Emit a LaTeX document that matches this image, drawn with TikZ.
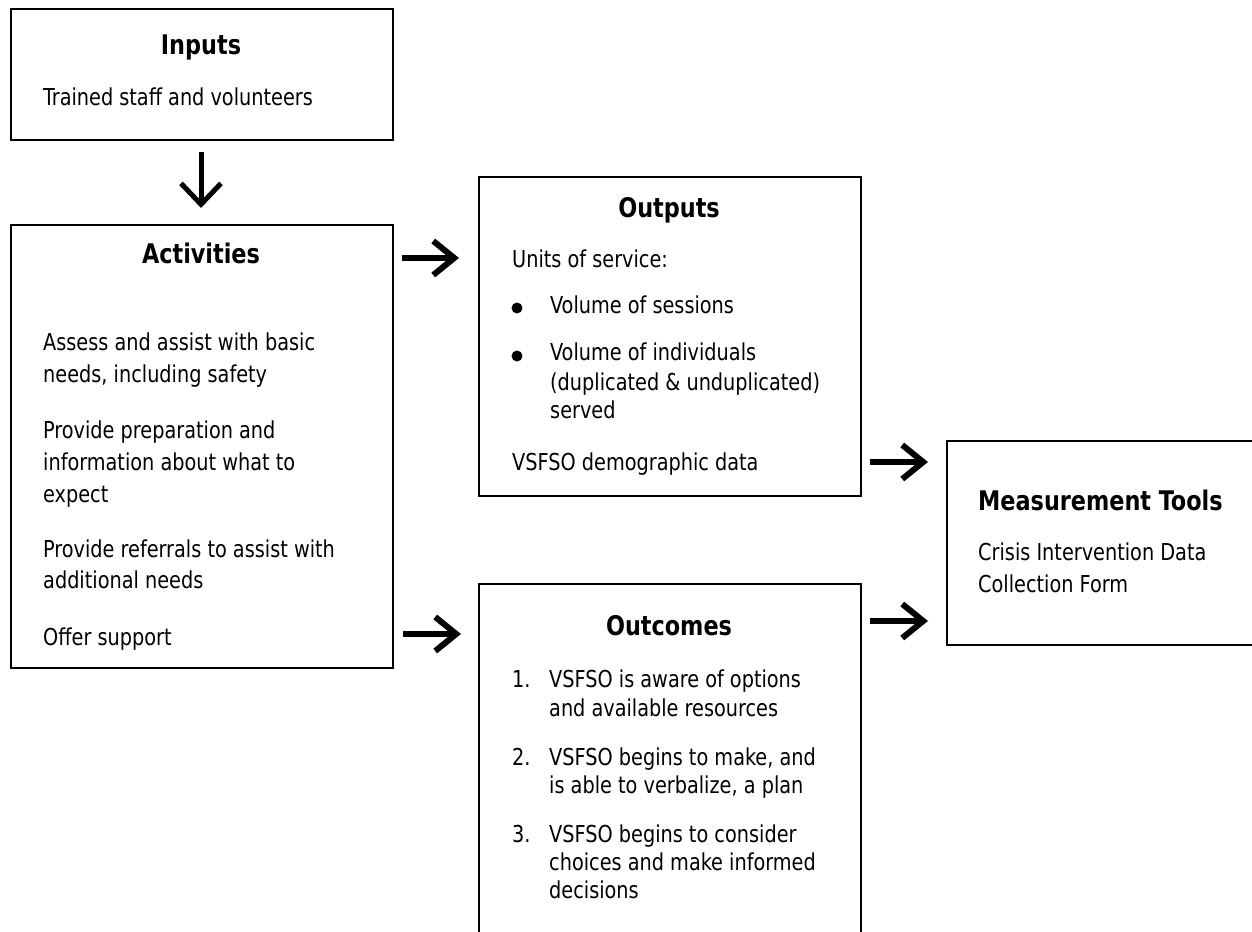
\documentclass[tikz,border=0pt]{standalone}
\usepackage{fontspec}
\setmainfont[FakeStretch=0.92]{DejaVu Sans Condensed}
\usetikzlibrary{arrows.meta}

\begin{document}
\begin{tikzpicture}[x=1pt,y=-1pt,
  box/.style={draw, line width=2.2pt, rectangle, inner sep=0pt, anchor=north west},
  txt/.style={anchor=base west, inner sep=0pt, font=\fontsize{23.3}{23.3}\selectfont},
  head/.style={anchor=base, inner sep=0pt, font=\fontsize{27}{27}\selectfont\bfseries},
  headw/.style={head, anchor=base west},
  dot/.style={circle, fill, inner sep=0pt, minimum size=11pt},
  flow/.style={line width=6pt, -{Straight Barb[length=21pt,width=34pt]}},
  flowdown/.style={line width=5pt, -{Straight Barb[length=21pt,width=40pt]}}]
\clip (0,0) rectangle (1252,931);

% frames
\node[box, minimum width=382pt, minimum height=131pt] (inputs) at (10,8) {};
\node[box, minimum width=382pt, minimum height=443pt] (activities) at (10,224) {};
\node[box, minimum width=382pt, minimum height=319pt] (outputs) at (478,176) {};
\node[box, minimum width=382pt, minimum height=400pt] (outcomes) at (478,583) {};
\node[box, minimum width=330pt, minimum height=204pt] (tools) at (946,440) {};

% Inputs
\node[head] (inH) at (201,55) {Inputs};
\node[txt] (in1) at (43,106) {Trained staff and volunteers};

% Activities
\node[head] (actH) at (201,263) {Activities};
\node[txt] (act1) at (43,350) {Assess and assist with basic};
\node[txt] (act2) at (43,382) {needs, including safety};
\node[txt] (act3) at (43,438) {Provide preparation and};
\node[txt] (act4) at (43,470) {information about what to};
\node[txt] (act5) at (43,502) {expect};
\node[txt] (act6) at (43,557) {Provide referrals to assist with};
\node[txt] (act7) at (43,588) {additional needs};
\node[txt] (act8) at (43,645) {Offer support};

% Outputs
\node[head] (outH) at (669,217) {Outputs};
\node[txt] (out1) at (512,267) {Units of service:};
\node[dot] (b1) at (517,308) {};
\node[txt] (out2) at (550,313) {Volume of sessions};
\node[dot] (b2) at (517,356) {};
\node[txt] (out3) at (550,360) {Volume of individuals};
\node[txt] (out4) at (550,390) {(duplicated \& unduplicated)};
\node[txt] (out5) at (550,418) {served};
\node[txt] (out6) at (512,470) {VSFSO demographic data};

% Outcomes
\node[head] (ocH) at (669,635) {Outcomes};
\node[txt] (n1) at (512,687) {1.};
\node[txt] (oc1) at (549,687) {VSFSO is aware of options};
\node[txt] (oc2) at (549,716) {and available resources};
\node[txt] (n2) at (512,765) {2.};
\node[txt] (oc3) at (549,765) {VSFSO begins to make, and};
\node[txt] (oc4) at (549,793) {is able to verbalize, a plan};
\node[txt] (n3) at (512,842) {3.};
\node[txt] (oc5) at (549,842) {VSFSO begins to consider};
\node[txt] (oc6) at (549,870) {choices and make informed};
\node[txt] (oc7) at (549,898) {decisions};

% Measurement tools
\node[headw] (toolsH) at (978,510) {Measurement Tools};
\node[txt] (tools1) at (978,560) {Crisis Intervention Data};
\node[txt] (tools2) at (978,592) {Collection Form};

% arrow ends
\coordinate (dS) at (201,152);
\coordinate (dE) at (201,208);
\coordinate (r1S) at (402,258);
\coordinate (r1E) at (459,258);
\coordinate (r2S) at (403,634);
\coordinate (r2E) at (461,634);
\coordinate (r3S) at (870,462);
\coordinate (r3E) at (928,462);
\coordinate (r4S) at (870,621);
\coordinate (r4E) at (928,621);

\draw[flowdown] (dS) -- (dE);
\draw[flow] (r1S) -- (r1E);
\draw[flow] (r2S) -- (r2E);
\draw[flow] (r3S) -- (r3E);
\draw[flow] (r4S) -- (r4E);
\end{tikzpicture}
\end{document}
